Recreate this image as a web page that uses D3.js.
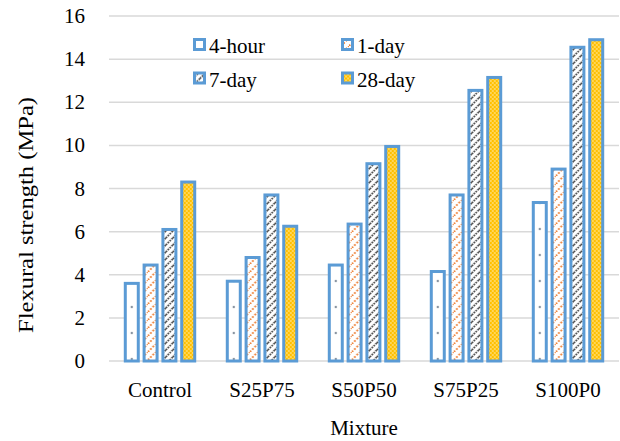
<!DOCTYPE html>
<html>
<head>
  <meta charset="UTF-8">
  <title>Flexural strength by mixture</title>
  <style>
    body { margin: 0; background: #fff; font-family: "Liberation Serif", "Times New Roman", serif; }
    svg, svg text { font-family: "Liberation Serif", "Times New Roman", serif !important; }
  </style>
</head>
<body>
  <svg id="chart" width="620" height="441" font-family="Liberation Serif"></svg>

  <script src="https://d3js.org/d3.v7.min.js"></script>
  <script>
    const categories = ["Control", "S25P75", "S50P50", "S75P25", "S100P0"];
    const series = ["4-hour", "1-day", "7-day", "28-day"];
    const hour4 = [3.6, 3.7, 4.45, 4.15, 7.35];
    const day1 = [4.45, 4.8, 6.35, 7.7, 8.9];
    const day7 = [6.1, 7.7, 9.15, 12.55, 14.55];
    const day28 = [8.3, 6.25, 9.95, 13.15, 14.9];
    const yTicks = [0, 2, 4, 6, 8, 10, 12, 14, 16];

    const values = [hour4, day1, day7, day28];
    const data = categories.map((c, i) => ({
      cat: c,
      vals: series.map((s, j) => ({ series: s, value: values[j][i] }))
    }));

    const plotLeft = 109, plotRight = 619, plotTop = 16, plotBottom = 361;
    const serif = '"Liberation Serif", "Times New Roman", serif';
    const fs = 21;

    const svg = d3.select("#chart");

    const x0 = d3.scaleBand().domain(categories).range([plotLeft, plotRight])
      .paddingInner(0.29).paddingOuter(0.145);
    const x1 = d3.scaleBand().domain(series).range([0, x0.bandwidth()]).paddingInner(0.15);
    const y = d3.scaleLinear().domain([0, 16]).range([plotBottom, plotTop]);

    const outline = "#5b9bd5";
    const sw = 3;

    // all text goes through here so the serif face is set the same way everywhere
    function label(sel) {
      return sel.attr("font-family", "Liberation Serif")
        .style("font-family", serif)
        .attr("font-size", fs)
        .attr("fill", "#000");
    }

    // fill patterns (user space of each group)
    const defs = svg.append("defs");

    // 4-hour: sparse grey dots, one column per bar
    const step = x0.step();
    const p4 = defs.append("pattern").attr("id", "p4h")
      .attr("patternUnits", "userSpaceOnUse")
      .attr("x", x1(series[0]) + x1.bandwidth() / 2 - step / 2)
      .attr("y", 8)
      .attr("width", step).attr("height", 26);
    p4.append("rect").attr("width", step).attr("height", 26).attr("fill", "#fff");
    p4.append("circle").attr("cx", step / 2).attr("cy", 13).attr("r", 1.2).attr("fill", "#8793a0");

    // legend version of the 4-hour fill: plain white
    defs.append("pattern").attr("id", "p4hLeg")
      .attr("patternUnits", "userSpaceOnUse").attr("width", 4).attr("height", 4)
      .append("rect").attr("width", 4).attr("height", 4).attr("fill", "#fff");

    // 1-day: orange dotted diagonals
    const p1 = defs.append("pattern").attr("id", "p1d")
      .attr("patternUnits", "userSpaceOnUse").attr("width", 8).attr("height", 8);
    p1.append("rect").attr("width", 8).attr("height", 8).attr("fill", "#fff");
    p1.append("path").attr("d", "M0,8 L8,0 M-2,2 L2,-2 M6,10 L10,6")
      .attr("stroke", "#ed7d31").attr("stroke-width", 1.8).attr("stroke-dasharray", "1.8,1.6");

    // 7-day: dark dotted diagonals
    const p7 = defs.append("pattern").attr("id", "p7d")
      .attr("patternUnits", "userSpaceOnUse").attr("width", 7).attr("height", 7);
    p7.append("rect").attr("width", 7).attr("height", 7).attr("fill", "#fff");
    p7.append("path").attr("d", "M0,7 L7,0 M-2,2 L2,-2 M5,9 L9,5")
      .attr("stroke", "#3a3a3a").attr("stroke-width", 1.7).attr("stroke-dasharray", "1.6,1.1");

    // 28-day: yellow with small white dots
    const p28 = defs.append("pattern").attr("id", "p28d")
      .attr("patternUnits", "userSpaceOnUse").attr("width", 4).attr("height", 4);
    p28.append("rect").attr("width", 4).attr("height", 4).attr("fill", "#ffc000");
    p28.append("circle").attr("cx", 1).attr("cy", 1).attr("r", 0.8).attr("fill", "#fff4cc");
    p28.append("circle").attr("cx", 3).attr("cy", 3).attr("r", 0.8).attr("fill", "#fff4cc");

    const fills = d3.scaleOrdinal().domain(series)
      .range(["url(#p4h)", "url(#p1d)", "url(#p7d)", "url(#p28d)"]);
    const legendFills = d3.scaleOrdinal().domain(series)
      .range(["url(#p4hLeg)", "url(#p1d)", "url(#p7d)", "url(#p28d)"]);

    // gridlines
    svg.append("g").selectAll("line").data(yTicks).join("line")
      .attr("x1", plotLeft).attr("x2", plotRight)
      .attr("y1", d => y(d)).attr("y2", d => y(d))
      .attr("stroke", "#d9d9d9").attr("stroke-width", 1.5);

    // y tick labels
    svg.append("g").selectAll("text").data(yTicks).join("text")
      .attr("x", 85).attr("y", d => y(d) + 7)
      .attr("text-anchor", "end")
      .call(label)
      .text(d => d);

    // bars
    svg.append("g").selectAll("g").data(data).join("g")
      .attr("transform", d => `translate(${x0(d.cat)},0)`)
      .selectAll("rect").data(d => d.vals).join("rect")
      .attr("x", d => x1(d.series) + sw / 2)
      .attr("y", d => y(d.value))
      .attr("width", x1.bandwidth() - sw)
      .attr("height", d => y(0) - y(d.value))
      .attr("fill", d => fills(d.series))
      .attr("stroke", outline).attr("stroke-width", sw);

    // category labels
    svg.append("g").selectAll("text").data(categories).join("text")
      .attr("x", d => x0(d) + x0.bandwidth() / 2).attr("y", 397)
      .attr("text-anchor", "middle")
      .call(label)
      .text(d => d);

    // axis titles
    svg.append("text").attr("x", (plotLeft + plotRight) / 2).attr("y", 435)
      .attr("text-anchor", "middle")
      .call(label)
      .text("Mixture");
    svg.append("text")
      .attr("transform", "translate(33,215) rotate(-90)")
      .attr("text-anchor", "middle")
      .attr("textLength", 236).attr("lengthAdjust", "spacingAndGlyphs")
      .call(label)
      .text("Flexural strength (MPa)");

    // legend
    const legendPos = [[193, 38], [341, 38], [193, 71.5], [341, 71.5]];
    const legend = svg.append("g").selectAll("g").data(series).join("g")
      .attr("transform", (d, i) => `translate(${legendPos[i][0]},${legendPos[i][1]})`);
    legend.append("rect").attr("x", 1.5).attr("y", 1.5).attr("width", 10).attr("height", 10)
      .attr("fill", d => legendFills(d)).attr("stroke", outline).attr("stroke-width", sw);
    legend.append("text").attr("x", 16).attr("y", 15)
      .call(label)
      .text(d => d);
  </script>
</body>
</html>
